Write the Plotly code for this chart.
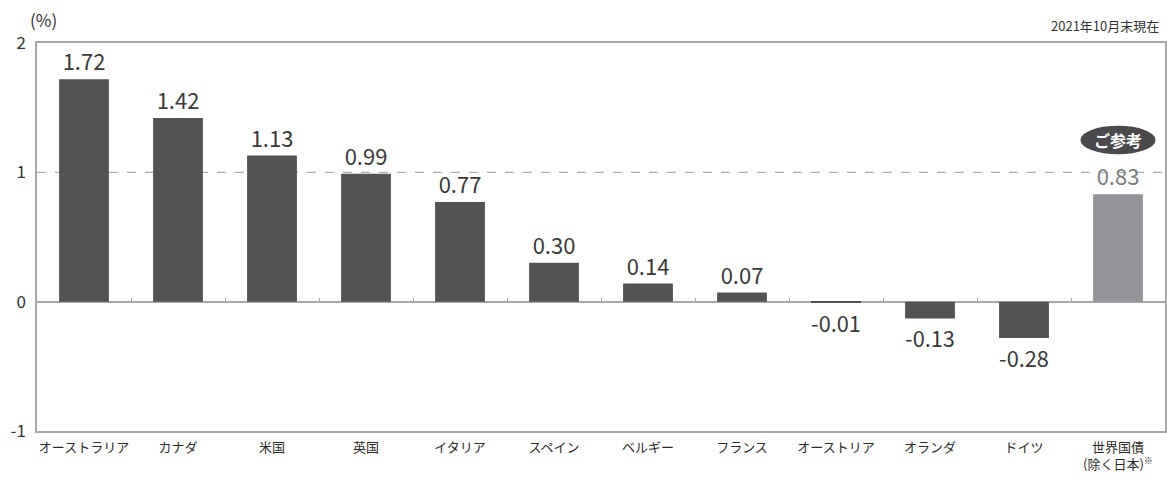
import plotly.graph_objects as go

categories = ["オーストラリア", "カナダ", "米国", "英国", "イタリア", "スペイン",
              "ベルギー", "フランス", "オーストリア", "オランダ", "ドイツ",
              "世界国債<br>(除く日本)<sup>※</sup>"]
values = [1.72, 1.42, 1.13, 0.99, 0.77, 0.30, 0.14, 0.07, -0.01, -0.13, -0.28, 0.83]
value_labels = ["1.72", "1.42", "1.13", "0.99", "0.77", "0.30", "0.14", "0.07",
                "-0.01", "-0.13", "-0.28", "0.83"]
y_ticks = [-1, 0, 1, 2]

FONT = "Noto Sans CJK JP"
DARK = "#535356"
LIGHT = "#939598"

bar_colors = [DARK] * 11 + [LIGHT]
text_colors = ["#3a3a3a"] * 11 + ["#7d7d80"]

fig = go.Figure()
fig.add_trace(go.Bar(
    x=categories, y=values,
    marker=dict(color=bar_colors, line=dict(width=0)),
    text=value_labels, textposition="outside",
    textfont=dict(family=FONT, size=22, color=text_colors),
    cliponaxis=False, hoverinfo="skip",
))
# helper trace for boundary ticks along zero line
fig.add_trace(go.Scatter(x=categories, y=[None] * len(categories), xaxis="x2",
                         mode="lines", showlegend=False, hoverinfo="skip"))

zero_frac = (0 - y_ticks[0]) / (y_ticks[-1] - y_ticks[0])
x_range = [-0.5, len(categories) - 0.5]

fig.update_layout(
    width=1167, height=480,
    margin=dict(l=37, r=2, t=43, b=49),
    paper_bgcolor="white", plot_bgcolor="white",
    showlegend=False,
    bargap=0.47,
    font=dict(family=FONT, color="#333333"),
    xaxis=dict(
        range=x_range,
        showline=True, linecolor="#a8a8a8", linewidth=1.5, mirror=True,
        ticks="", tickfont=dict(family=FONT, size=13, color="#2a2a2a"),
        ticklabelstandoff=4,
        showgrid=False, fixedrange=True, automargin=False,
    ),
    xaxis2=dict(
        overlaying="x", matches="x", anchor="free", position=zero_frac,
        side="bottom", showline=False, showticklabels=False,
        ticks="inside", tickson="boundaries", ticklen=4, tickcolor="#a8a8a8",
        tickwidth=1, showgrid=False, automargin=False,
    ),
    yaxis=dict(
        range=[-1, 2], tickvals=y_ticks, ticktext=[str(v) for v in y_ticks],
        showline=True, linecolor="#a8a8a8", linewidth=1.5, mirror=True,
        showgrid=False, zeroline=True, zerolinecolor="#a8a8a8", zerolinewidth=1.5,
        tickfont=dict(family=FONT, size=17, color="#333333"), ticks="",
        ticklabelstandoff=6, automargin=False,
    ),
    shapes=[
        dict(type="line", xref="paper", x0=0, x1=1, yref="y", y0=1, y1=1,
             line=dict(color="#9a9a9a", width=1, dash="dash"), layer="below"),
        dict(type="circle", xref="x", yref="y", x0=10.6, x1=11.4, y0=1.14, y1=1.36,
             fillcolor="#4a4a4d", line=dict(width=0)),
    ],
    annotations=[
        dict(text="(%)", xref="paper", yref="paper", x=0, y=1, xanchor="left",
             yanchor="bottom", yshift=9, xshift=-9, showarrow=False,
             font=dict(family=FONT, size=17, color="#333333")),
        dict(text="2021年10月末現在", xref="paper", yref="paper", x=1, y=1,
             xanchor="right", yanchor="bottom", yshift=6, xshift=-4, showarrow=False,
             font=dict(family=FONT, size=13, color="#333333")),
        dict(text="<b>ご参考</b>", xref="x", yref="y", x=11, y=1.25,
             showarrow=False, font=dict(family=FONT, size=16, color="white")),
    ],
)

fig.write_html("out.html",
               config={"displayModeBar": False},
               post_script="document.body.style.margin='0';document.body.style.overflow='hidden';")
